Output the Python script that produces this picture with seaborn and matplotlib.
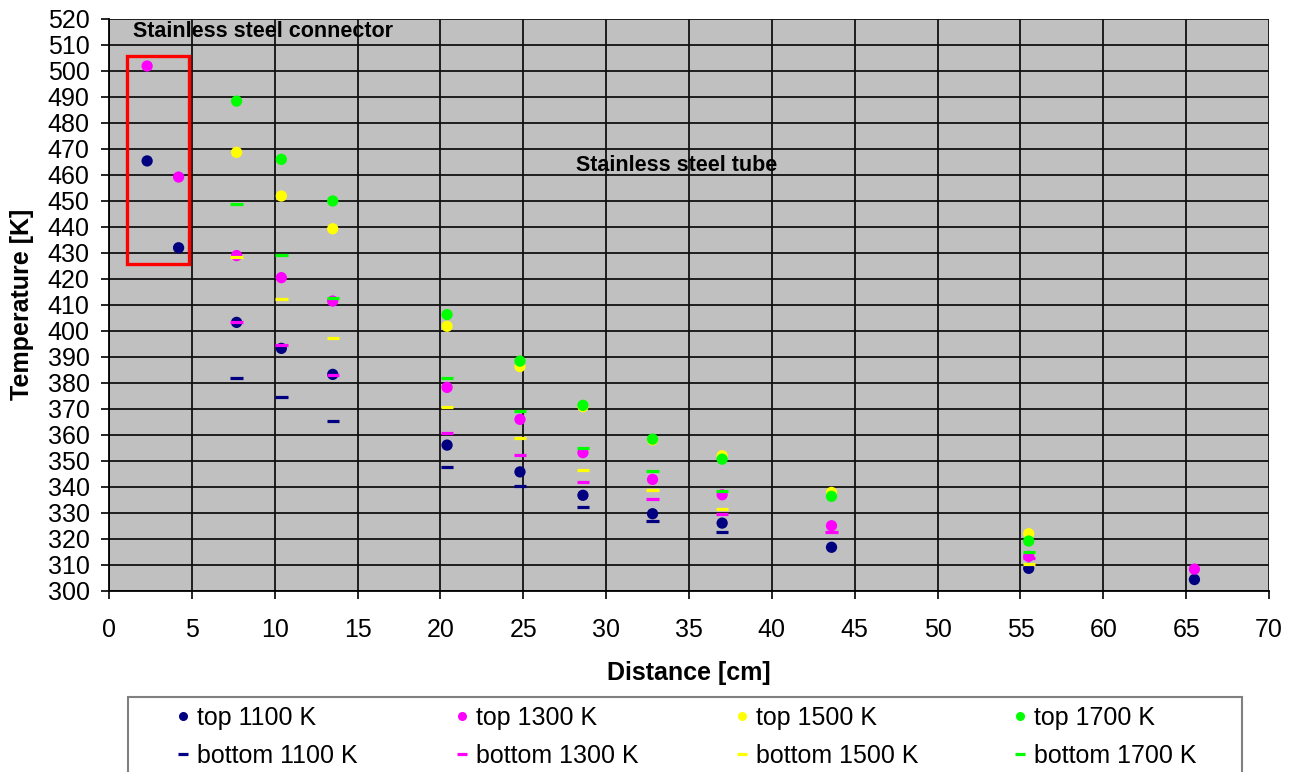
import numpy as np
import pandas as pd
import matplotlib
matplotlib.use("Agg")
import matplotlib.pyplot as plt
from matplotlib.lines import Line2D
from matplotlib.patches import Rectangle
import seaborn as sns

# Measurement positions along the line [cm]
distance = [2.3, 4.2, 7.7, 10.4, 13.5, 20.4, 24.8, 28.6, 32.8, 37.0, 43.6, 55.5, 65.5]
nan = np.nan

# Temperatures [K] at the top side, for each furnace setpoint
top_1100 = [465.3, 431.9, 403.2, 393.2, 383.2, 356.0, 345.7, 336.7, 329.6, 326.0, 316.7, 308.6, 304.3]
top_1300 = [501.8, 459.1, 428.9, 420.4, 411.4, 378.2, 365.9, 353.1, 342.8, 336.9, 325.0, 313.2, 308.3]
top_1500 = [nan, nan, 468.6, 451.8, 439.2, 401.7, 386.2, 370.8, 358.0, 351.9, 337.8, 321.9, nan]
top_1700 = [nan, nan, 488.3, 465.9, 449.9, 406.2, 388.3, 371.3, 358.3, 350.6, 336.3, 319.1, nan]

# Temperatures [K] at the bottom side
bottom_1100 = [nan, nan, 381.9, 374.4, 365.4, 347.7, 340.4, 332.2, 326.8, 322.5, nan, nan, nan]
bottom_1300 = [nan, nan, 403.5, 394.5, 383.0, 360.8, 352.2, 341.7, 335.1, 329.4, 322.5, 312.4, nan]
bottom_1500 = [nan, nan, 428.5, 412.3, 397.3, 370.5, 358.8, 346.3, 338.7, 331.4, nan, 310.4, nan]
bottom_1700 = [nan, nan, 448.6, 429.1, 412.7, 381.7, 369.0, 354.9, 346.0, 338.5, nan, 314.9, nan]

setpoints = ["1100 K", "1300 K", "1500 K", "1700 K"]
colors = ["#000080", "#FF00FF", "#FFFF00", "#00FF00"]
top_series = [top_1100, top_1300, top_1500, top_1700]
bottom_series = [bottom_1100, bottom_1300, bottom_1500, bottom_1700]

# Connector region outline (distance range and temperature range)
connector_x = [1.1, 4.85]
connector_y = [425.5, 505.5]

x_ticks = list(range(0, 71, 5))
y_ticks = list(range(300, 521, 10))


def long_frame(series_list, side):
    rows = []
    for sp, vals in zip(setpoints, series_list):
        for d, t in zip(distance, vals):
            if not np.isnan(t):
                rows.append({"Distance": d, "Temperature": t, "Setpoint": sp, "Side": side})
    return pd.DataFrame(rows)


df_top = long_frame(top_series, "top")
df_bottom = long_frame(bottom_series, "bottom")
palette = dict(zip(setpoints, colors))

sns.set_style("white")
plt.rcParams["font.family"] = ["Liberation Sans", "DejaVu Sans"]
plt.rcParams["text.color"] = "black"
plt.rcParams["axes.labelcolor"] = "black"
plt.rcParams["xtick.color"] = "black"
plt.rcParams["ytick.color"] = "black"

W, H = 1300, 772
fig = plt.figure(figsize=(W / 100, H / 100), dpi=100)
ax = fig.add_axes([109 / W, 1 - 590.7 / H, 1160 / W, 572 / H])
ax.set_facecolor("#C0C0C0")

sns.scatterplot(data=df_top, x="Distance", y="Temperature", hue="Setpoint",
                hue_order=setpoints, palette=palette, marker="o", s=66,
                linewidth=0, legend=False, ax=ax, zorder=3)
sns.scatterplot(data=df_bottom, x="Distance", y="Temperature", hue="Setpoint",
                hue_order=setpoints, palette=palette, marker="_", s=80,
                linewidth=2.3, legend=False, ax=ax, zorder=4)

ax.set_xlim(0, 70)
ax.set_ylim(300, 520)
ax.set_xticks(x_ticks)
ax.set_yticks(y_ticks)
ax.grid(True, color="#111111", linewidth=1.3, zorder=1)
ax.set_axisbelow(True)
for side in ["top", "right"]:
    ax.spines[side].set_visible(False)
for side in ["left", "bottom"]:
    ax.spines[side].set_color("black")
    ax.spines[side].set_linewidth(1.3)

ax.tick_params(axis="both", which="major", direction="out", length=6,
               width=1.2, color="black", labelsize=18, labelcolor="black")
ax.tick_params(axis="x", pad=14)
ax.tick_params(axis="y", pad=8)
ax.xaxis.set_ticks_position("bottom")
ax.yaxis.set_ticks_position("left")

ax.set_xlabel("Distance [cm]", fontsize=18, fontweight="bold", labelpad=13,
              color="black")
ax.set_ylabel("Temperature [K]", fontsize=18, fontweight="bold", color="black")
ax.yaxis.set_label_coords(-0.065, 0.5)

# Connector region
ax.add_patch(Rectangle((connector_x[0], connector_y[0]),
                       connector_x[1] - connector_x[0],
                       connector_y[1] - connector_y[0],
                       fill=False, edgecolor="#FF0000", linewidth=2.4, zorder=5))
ax.text(1.45, 514.9, "Stainless steel connector", fontsize=15.5,
        fontweight="bold", va="center", ha="left", color="black", zorder=6)
ax.text(28.2, 463.7, "Stainless steel tube", fontsize=15.5,
        fontweight="bold", va="center", ha="left", color="black", zorder=6)

# Legend box below the plot
fig.patches.append(Rectangle((128 / W, -0.05), (1242 - 128) / W, 1 - 697 / H + 0.05,
                             transform=fig.transFigure, facecolor="white",
                             edgecolor="#808080", linewidth=1.5, zorder=0))
col_x = [176, 455, 735, 1013]
for i, (sp, c) in enumerate(zip(setpoints, colors)):
    handles = [
        Line2D([], [], linestyle="none", marker="o", markersize=6.5,
               markerfacecolor=c, markeredgewidth=0),
        Line2D([], [], linestyle="none", marker="_", markersize=7.5,
               markeredgecolor=c, markeredgewidth=2.3),
    ]
    leg = fig.legend(handles, [f"top {sp}", f"bottom {sp}"], loc="upper left",
                     bbox_to_anchor=(col_x[i] / W, 1 - 706 / H), frameon=False,
                     fontsize=18, handlelength=0.55, handletextpad=0.3,
                     borderpad=0, borderaxespad=0, labelspacing=0.55)
    for t in leg.get_texts():
        t.set_color("black")

fig.savefig("out.png", dpi=100)
